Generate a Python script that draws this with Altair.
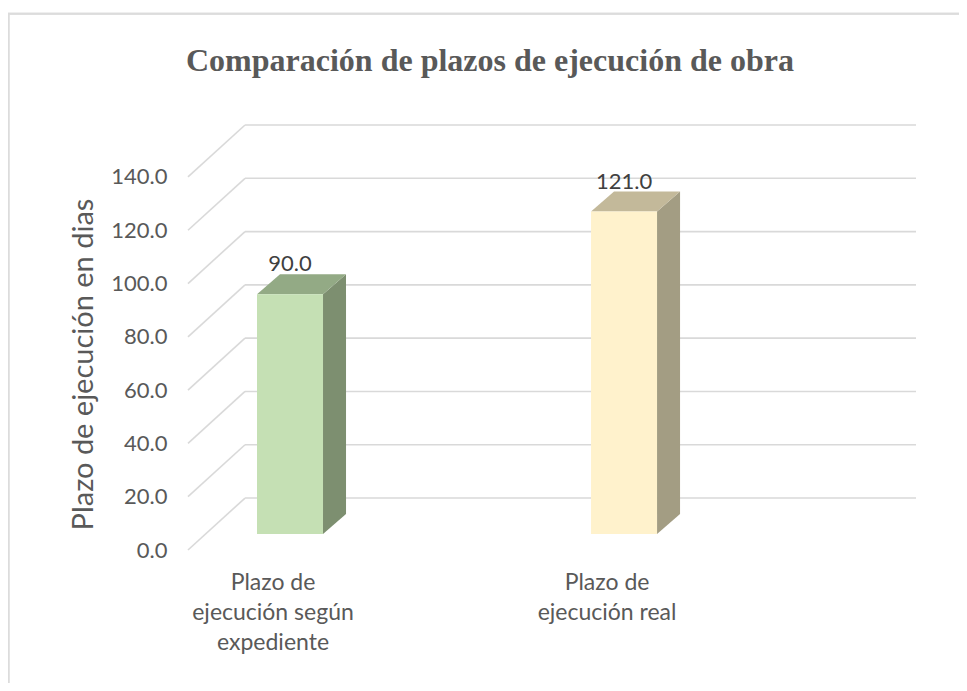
import altair as alt
import pandas as pd

# ---- data ----
categories = ["Plazo de ejecución según expediente", "Plazo de ejecución real"]
label_lines = ["Plazo de\nejecución según\nexpediente", "Plazo de\nejecución real"]
values = [90.0, 121.0]
value_labels = ["90.0", "121.0"]
tick_values = [0, 20, 40, 60, 80, 100, 120, 140]

# ---- styling (colours and 3-D depth, in axis units) ----
front_colors = ["#c5e0b4", "#fff2cc"]
top_colors = ["#93aa85", "#c3b99a"]
side_colors = ["#7d8f70", "#a39d83"]
X_MIN, X_MAX = -0.2545, 1.925
Y_MAX = 159.5
WALL_DX, WALL_DY = 0.1707, 19.5
BAR_SHIFT_X, BAR_SHIFT_Y = 0.0509, 6.0
BAR_HALF = 0.0988
BAR_DX, BAR_DY = 0.0689, 7.5
GRID = "#d9d9d9"
TXT = "#595959"
FONT = "Lato"

xscale = alt.Scale(domain=[X_MIN, X_MAX], nice=False, zero=False)
yscale = alt.Scale(domain=[0, Y_MAX], nice=False, zero=False)
yaxis = alt.Axis(values=tick_values, format=".1f", grid=False, domain=False, ticks=False,
                 labelFont=FONT, labelFontSize=22, labelColor=TXT, labelPadding=21,
                 title="Plazo de ejecución en dias", titleFont=FONT, titleFontSize=29,
                 titleFontWeight="normal", titleColor=TXT, titlePadding=12, titleY=239)


def X(f):
    return alt.X(f, type="quantitative", scale=xscale, axis=None)


def Y(f):
    return alt.Y(f, type="quantitative", scale=yscale, axis=yaxis)


# gridlines (back wall + side wall)
grid = pd.DataFrame({"t": tick_values})
grid["xa"] = X_MIN
grid["xb"] = X_MIN + WALL_DX
grid["xc"] = X_MAX
grid["yb"] = grid["t"] + WALL_DY

back = alt.Chart(grid).mark_rule(color=GRID, strokeWidth=1.6).encode(
    x=X("xb"), x2="xc", y=Y("yb"))
diag = alt.Chart(grid).mark_rule(color=GRID, strokeWidth=1.6).encode(
    x=X("xa"), x2="xb", y=Y("t"), y2="yb")

# bars
rows, tops, sides = [], [], []
for i, (c, v) in enumerate(zip(categories, values)):
    fx1 = i + BAR_SHIFT_X - BAR_HALF
    fx2 = i + BAR_SHIFT_X + BAR_HALF
    rows.append(dict(cat=c, fx1=fx1, fx2=fx2, fy1=BAR_SHIFT_Y, fy2=v + BAR_SHIFT_Y,
                     col=front_colors[i], lx=i + BAR_SHIFT_X, ly=v + BAR_SHIFT_Y + BAR_DY,
                     lab=value_labels[i], cx=i, cy=0, cat_lab=label_lines[i]))
    tops.append(dict(cat=c, y=v + BAR_SHIFT_Y, x=fx1, x2=fx2, col=top_colors[i]))
    tops.append(dict(cat=c, y=v + BAR_SHIFT_Y + BAR_DY, x=fx1 + BAR_DX, x2=fx2 + BAR_DX, col=top_colors[i]))
    sides.append(dict(cat=c, x=fx2, y=v + BAR_SHIFT_Y, y2=BAR_SHIFT_Y, col=side_colors[i]))
    sides.append(dict(cat=c, x=fx2 + BAR_DX, y=v + BAR_SHIFT_Y + BAR_DY, y2=BAR_SHIFT_Y + BAR_DY, col=side_colors[i]))

bars = pd.DataFrame(rows)
tops = pd.DataFrame(tops)
sides = pd.DataFrame(sides)

side_layer = alt.Chart(sides).mark_area(orient="vertical", opacity=1).encode(
    x=X("x"), y=Y("y"), y2="y2", color=alt.Color("col:N", scale=None))
top_layer = alt.Chart(tops).mark_area(orient="horizontal", opacity=1).encode(
    y=Y("y"), x=X("x"), x2="x2", color=alt.Color("col:N", scale=None))
front_layer = alt.Chart(bars).mark_bar(opacity=1).encode(
    x=X("fx1"), x2="fx2", y=Y("fy1"), y2="fy2", color=alt.Color("col:N", scale=None))

value_text = alt.Chart(bars).mark_text(font=FONT, fontSize=22, color="#404040",
                                       baseline="middle", dy=-10).encode(
    x=X("lx"), y=Y("ly"), text="lab:N")
cat_text = alt.Chart(bars).mark_text(font=FONT, fontSize=23, color=TXT, baseline="top",
                                     lineBreak="\n", lineHeight=30, dy=22).encode(
    x=X("cx"), y=Y("cy"), text="cat_lab:N")

# outer frame (left and top edges only, as in the reference)
frame_left = alt.Chart(bars).mark_rule(color="#dcdcdc", strokeWidth=2).encode(
    x=alt.value(-179.5), y=alt.value(-112), y2=alt.value(560))
frame_top = alt.Chart(bars).mark_rule(color="#dcdcdc", strokeWidth=2).encode(
    x=alt.value(-180.5), x2=alt.value(775), y=alt.value(-111.3))

chart = alt.layer(back, diag, side_layer, top_layer, front_layer, value_text, cat_text,
                  frame_left, frame_top).properties(
    width=728, height=425, autosize="none",
    padding={"left": 180, "top": 117, "right": 43, "bottom": 133},
    background="white",
    title=alt.TitleParams(text="Comparación de plazos de ejecución de obra",
                          font="Liberation Serif", fontSize=32, fontWeight="bold",
                          color=TXT, anchor="start", frame="group", dx=-2,
                          baseline="alphabetic", offset=-91),
).configure_view(strokeWidth=0, stroke=None)

chart.save("out.html", embed_options={"renderer": "svg", "actions": False})
